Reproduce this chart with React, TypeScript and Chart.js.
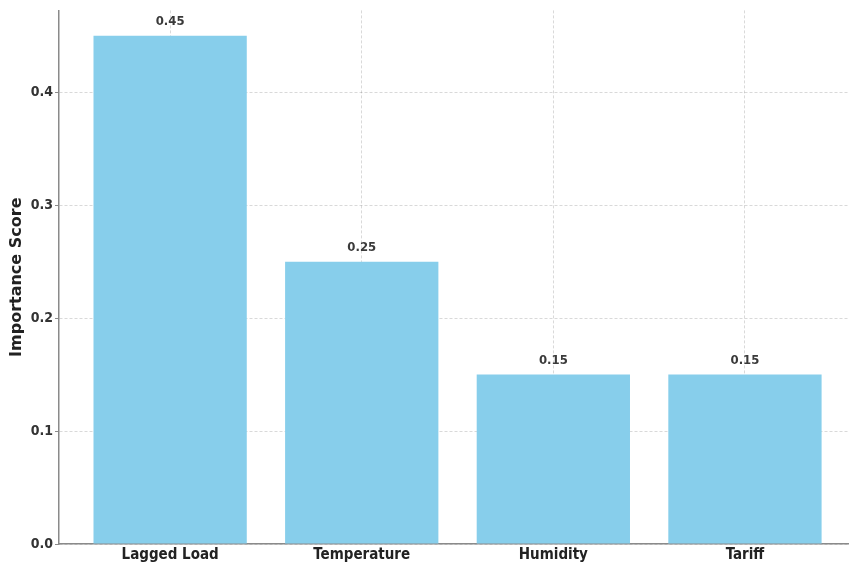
import React, { useEffect, useRef } from "react";
import { Chart, registerables } from "chart.js";

Chart.register(...registerables);

const features = ["Lagged Load", "Temperature", "Humidity", "Tariff"];
const importance = [0.45, 0.25, 0.15, 0.15];
const yTicks = [0, 0.1, 0.2, 0.3, 0.4];

const BAR_COLOR = "#87CEEB";
const GRID_COLOR = "rgba(0,0,0,0.15)";
const AXIS_COLOR = "#8a8a8a";
const TEXT_FAMILY = '"DejaVu Sans Condensed", "Liberation Sans", sans-serif';

// Writes each bar's score just above it
const valueLabels = {
  id: "valueLabels",
  afterDatasetsDraw(chart: any) {
    const { ctx } = chart;
    const meta = chart.getDatasetMeta(0);
    ctx.save();
    ctx.font = `bold 13px ${TEXT_FAMILY}`;
    ctx.fillStyle = "#3a3a3a";
    ctx.textAlign = "center";
    ctx.textBaseline = "alphabetic";
    meta.data.forEach((bar: any, i: number) => {
      ctx.fillText(importance[i].toFixed(2), bar.x, bar.y - 10.5);
    });
    ctx.restore();
  },
};

export default function App() {
  const canvasRef = useRef<HTMLCanvasElement | null>(null);

  useEffect(() => {
    const canvas = canvasRef.current;
    if (!canvas) return;
    const chart = new Chart(canvas, {
      type: "bar",
      data: {
        datasets: [
          {
            data: importance.map((v, i) => ({ x: i, y: v })),
            backgroundColor: BAR_COLOR,
            borderWidth: 0,
            barPercentage: 1,
            categoryPercentage: 0.8,
          },
        ],
      },
      options: {
        animation: false,
        responsive: false,
        devicePixelRatio: 1,
        layout: { padding: { top: 10, left: 0, right: 0, bottom: 0 } },
        plugins: {
          legend: { display: false },
          tooltip: { enabled: false },
        },
        scales: {
          x: {
            type: "linear",
            min: -0.58,
            max: 3.543,
            offset: false,
            z: 1,
            afterBuildTicks: (axis: any) => {
              axis.ticks = features.map((_, i) => ({ value: i }));
            },
            afterFit: (axis: any) => {
              axis.height = 21;
            },
            grid: {
              offset: false,
              color: GRID_COLOR,
              lineWidth: 1,
              drawTicks: false,
            },
            border: { color: AXIS_COLOR, width: 1.5, dash: [3, 2] },
            ticks: {
              padding: 2,
              autoSkip: false,
              maxRotation: 0,
              color: "#222",
              font: { family: TEXT_FAMILY, size: 15, weight: "bold" },
              callback: (v: any) => features[Math.round(Number(v))] ?? "",
            },
          },
          y: {
            min: 0,
            max: 0.4725,
            z: 1,
            afterBuildTicks: (axis: any) => {
              axis.ticks = yTicks.map((v) => ({ value: v }));
            },
            afterFit: (axis: any) => {
              axis.width = 59;
            },
            grid: {
              color: GRID_COLOR,
              lineWidth: 1,
              tickLength: 4,
              tickColor: AXIS_COLOR,
              tickBorderDash: [],
            },
            border: { color: AXIS_COLOR, width: 1.5, dash: [3, 2] },
            ticks: {
              padding: 2,
              color: "#333",
              font: { family: TEXT_FAMILY, size: 14, weight: "bold" },
              callback: (v: any) => Number(v).toFixed(1),
            },
            title: {
              display: true,
              text: "Importance Score",
              color: "#222",
              padding: { top: 7.5, bottom: 0 },
              font: { family: '"DejaVu Sans", sans-serif', size: 16, weight: "bold" },
            },
          },
        },
      },
      plugins: [valueLabels],
    });
    return () => chart.destroy();
  }, []);

  return (
    <div style={{ position: "fixed", left: 0, top: 0, width: 849, height: 565, background: "#fff" }}>
      <canvas ref={canvasRef} width={849} height={565} style={{ display: "block" }} />
    </div>
  );
}
